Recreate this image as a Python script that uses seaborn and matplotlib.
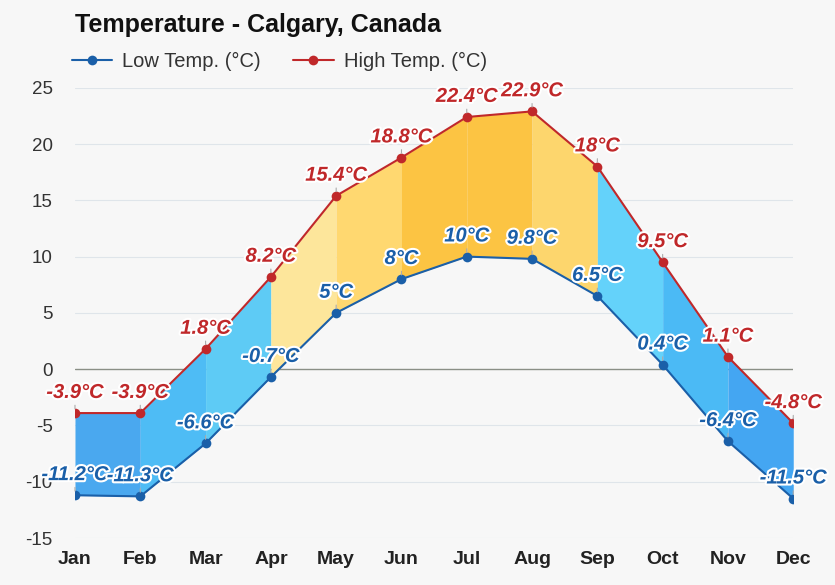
import matplotlib
matplotlib.use("Agg")
import matplotlib.pyplot as plt
import matplotlib.patheffects as pe
import seaborn as sns
import pandas as pd
import numpy as np

months = ["Jan", "Feb", "Mar", "Apr", "May", "Jun", "Jul", "Aug", "Sep", "Oct", "Nov", "Dec"]
low_temp = [-11.2, -11.3, -6.6, -0.7, 5, 8, 10, 9.8, 6.5, 0.4, -6.4, -11.5]
high_temp = [-3.9, -3.9, 1.8, 8.2, 15.4, 18.8, 22.4, 22.9, 18, 9.5, 1.1, -4.8]
low_labels = ["-11.2°C", "-11.3°C", "-6.6°C", "-0.7°C", "5°C", "8°C", "10°C", "9.8°C", "6.5°C", "0.4°C", "-6.4°C", "-11.5°C"]
high_labels = ["-3.9°C", "-3.9°C", "1.8°C", "8.2°C", "15.4°C", "18.8°C", "22.4°C", "22.9°C", "18°C", "9.5°C", "1.1°C", "-4.8°C"]
seg_colors = ["#4aa8ef", "#4ebcf5", "#5ecbf5", "#fde69b", "#ffd870", "#fcc443",
              "#fcc443", "#fdd66d", "#64d2fa", "#4bbaf5", "#44a6f2"]
yticks = [-15, -10, -5, 0, 5, 10, 15, 20, 25]

LOW_C = "#1a5fa8"
HIGH_C = "#c0282a"
BG = "#f7f7f7"

sns.set_theme(style="white")
plt.rcParams["font.family"] = ["Liberation Sans", "DejaVu Sans"]
plt.rcParams["axes.unicode_minus"] = False

x = np.arange(len(months))
df = pd.DataFrame({"x": np.concatenate([x, x]),
                   "temp": low_temp + high_temp,
                   "series": ["Low Temp. (°C)"] * 12 + ["High Temp. (°C)"] * 12})

fig = plt.figure(figsize=(8.35, 5.85), dpi=100, facecolor=BG)
ax = fig.add_axes([0.0898, 0.0803, 0.8602, 0.7697])
ax.set_facecolor(BG)

for yt in yticks:
    if yt != 0:
        ax.axhline(yt, color="#dfe5ea", lw=0.8, zorder=0)
ax.axhline(0, color="#8a8f86", lw=1.0, zorder=1)

for i in range(len(months) - 1):
    ax.fill_between(x[i:i + 2], low_temp[i:i + 2], high_temp[i:i + 2],
                    color=seg_colors[i], lw=0, zorder=2)

sns.lineplot(data=df, x="x", y="temp", hue="series",
             palette={"Low Temp. (°C)": LOW_C, "High Temp. (°C)": HIGH_C},
             marker="o", markersize=7, markeredgewidth=0, lw=1.5, ax=ax, zorder=3)

stroke = [pe.withStroke(linewidth=3, foreground="white")]
for xs, vals, labs, col in [(x, low_temp, low_labels, LOW_C), (x, high_temp, high_labels, HIGH_C)]:
    for xi, v, lab in zip(xs, vals, labs):
        ax.annotate(lab, xy=(xi, v), xytext=(0, 8), textcoords="offset points",
                    ha="center", va="bottom", fontsize=14.5, fontweight="bold",
                    fontstyle="italic", color=col, path_effects=stroke, zorder=5,
                    arrowprops=dict(arrowstyle="-", color="#aaaaaa", lw=0.8,
                                    shrinkA=0, shrinkB=3))

ax.set_xlim(0, 11)
ax.set_ylim(-15, 25)
ax.set_yticks(yticks)
ax.set_xticks(x)
ax.set_xticklabels(months, fontweight="bold", fontsize=14, color="#222222")
ax.tick_params(axis="y", labelsize=13.5, colors="#333333", length=0, pad=16)
ax.tick_params(axis="x", length=0, pad=9)
ax.set_xlabel("")
ax.set_ylabel("")
for s in ax.spines.values():
    s.set_visible(False)

leg = ax.legend(loc="center left", bbox_to_anchor=(-0.004, 1.058), ncol=2, frameon=False,
                fontsize=14.5, handlelength=2.0, columnspacing=1.6, handletextpad=0.5,
                borderaxespad=0, borderpad=0)
for t in leg.get_texts():
    t.set_color("#333333")

fig.text(0.0898, 0.957, "Temperature - Calgary, Canada", fontsize=18, fontweight="bold",
         color="#111111", ha="left", va="center")

fig.savefig("out.png", dpi=100, facecolor=BG)
